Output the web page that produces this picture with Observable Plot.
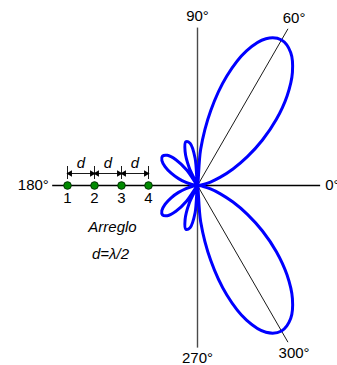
<!DOCTYPE html>
<html>
<head>
<meta charset="utf-8">
<script src="https://cdn.jsdelivr.net/npm/d3@7"></script>
<script src="https://cdn.jsdelivr.net/npm/@observablehq/plot@0.6"></script>
<style>
  html, body { margin: 0; padding: 0; background: #fff; }
  svg { display: block; }
</style>
</head>
<body>
<div id="chart"></div>
<script>
// Normalised radiation pattern of a 4-element array, every 5 degrees
const angles = [
  0, 5, 10, 15, 20, 25, 30, 35, 40, 45, 50, 55, 60, 65, 70, 75, 80, 85,
  90, 95, 100, 105, 110, 115, 120, 125, 130, 135, 140, 145, 150, 155, 160, 165, 170, 175,
  180, 185, 190, 195, 200, 205, 210, 215, 220, 225, 230, 235, 240, 245, 250, 255, 260, 265,
  270, 275, 280, 285, 290, 295, 300, 305, 310, 315, 320, 325, 330, 335, 340, 345, 350, 355
];
const gain = [
  0.000, 0.009, 0.035, 0.080, 0.145, 0.233, 0.343, 0.472, 0.613, 0.754, 0.879, 0.967, 1.000, 0.964, 0.853, 0.675, 0.452, 0.216,
  0.000, 0.163, 0.255, 0.269, 0.216, 0.118, 0.000, 0.112, 0.200, 0.254, 0.272, 0.259, 0.222, 0.173, 0.120, 0.071, 0.033, 0.008,
  0.000, 0.008, 0.033, 0.071, 0.120, 0.173, 0.222, 0.259, 0.272, 0.254, 0.200, 0.112, 0.000, 0.118, 0.216, 0.269, 0.255, 0.163,
  0.000, 0.216, 0.452, 0.675, 0.853, 0.964, 1.000, 0.967, 0.879, 0.754, 0.613, 0.472, 0.343, 0.233, 0.145, 0.080, 0.035, 0.009
];

// Reference directions and their labels
const spokeAngles = [0, 60, 90, 180, 270, 300];
const spokeLabels = ["0°", "60°", "90°", "180°", "270°", "300°"];

// Array sketch
const elements = ["1", "2", "3", "4"];
const spacingLabel = "d";
const arrayTitle = "Arreglo";
const arrayNote = "d=λ/2";

// ---- layout ----
const W = 337, H = 365;
const cx = 197, cy = 185, R = 168;            // pixel centre and radius of unit gain
const px = v => v / R;                         // pixels -> pattern units
const spokeLen = {0: 0.73, 60: 1.077, 90: 0.94, 180: 0.865, 270: 0.965, 300: 1.077};
const spokeStroke = {0: "#000", 60: "#000", 90: "#4a4a4a", 180: "#000", 270: "#4a4a4a", 300: "#000"};
const spokeWidth = {0: 1.4, 60: 0.9, 90: 1.4, 180: 1.4, 270: 1.4, 300: 0.9};
const labelPos = {
  0: {r: 0.76, anchor: "start"},
  60: {r: 1.15, anchor: "middle"},
  90: {r: 1.01, anchor: "middle"},
  180: {r: 0.885, anchor: "end"},
  270: {r: 1.03, anchor: "middle"},
  300: {r: 1.15, anchor: "middle"}
};
const elemX0 = px(67 - cx), elemStep = px(27);
const rad = a => a * Math.PI / 180;

const pattern = angles.map((a, i) => ({x: gain[i] * Math.cos(rad(a)), y: gain[i] * Math.sin(rad(a))}));
pattern.push(pattern[0]);

const spokes = spokeAngles.map((a, i) => ({
  a, x2: spokeLen[a] * Math.cos(rad(a)), y2: spokeLen[a] * Math.sin(rad(a)),
  label: spokeLabels[i],
  lx: labelPos[a].r * Math.cos(rad(a)), ly: labelPos[a].r * Math.sin(rad(a)),
  anchor: labelPos[a].anchor
}));

const elems = elements.map((name, i) => ({name, x: elemX0 + i * elemStep}));
const gaps = elems.slice(0, -1).map((e, i) => ({x1: e.x, x2: elems[i + 1].x, xm: (e.x + elems[i + 1].x) / 2}));
const dimY = px(cy - 173);
const heads = gaps.flatMap(g => [
  {x: g.x1 + px(2.6), rot: -90},
  {x: g.x2 - px(2.6), rot: 90}
]);

const font = "Liberation Sans, Arial, Helvetica, sans-serif";
const textStyle = {fontSize: 15, fontFamily: font, fill: "#000"};

const chart = Plot.plot({
  width: W, height: H,
  margin: 0,
  x: {domain: [-1, 1], range: [cx - R, cx + R], axis: null},
  y: {domain: [-1, 1], range: [cy + R, cy - R], axis: null},
  style: {background: "#fff", overflow: "visible"},
  marks: [
    // reference directions
    ...spokeAngles.map(a => Plot.link(spokes.filter(s => s.a === a), {
      x1: 0, y1: 0, x2: "x2", y2: "y2",
      stroke: spokeStroke[a], strokeWidth: spokeWidth[a]
    })),
    ...["start", "middle", "end"].map(anchor => Plot.text(spokes.filter(s => s.anchor === anchor), {
      x: "lx", y: "ly", text: "label", textAnchor: anchor, ...textStyle
    })),
    // radiation pattern
    Plot.line(pattern, {x: "x", y: "y", curve: "catmull-rom", stroke: "#0000ff", strokeWidth: 3, strokeLinejoin: "round"}),
    // spacing dimensions
    Plot.ruleX(elems, {x: "x", y1: px(cy - 166), y2: px(cy - 179), stroke: "#000", strokeWidth: 0.9}),
    Plot.link(gaps, {x1: "x1", x2: "x2", y1: dimY, y2: dimY, stroke: "#000", strokeWidth: 0.9}),
    Plot.dot(heads, {x: "x", y: dimY, symbol: "triangle", r: 2.4, rotate: "rot", fill: "#000", stroke: "none"}),
    Plot.text(gaps, {x: "xm", y: px(cy - 163), text: () => spacingLabel, fontStyle: "italic", ...textStyle}),
    // array elements
    Plot.dot(elems, {x: "x", y: 0, r: 3.8, fill: "#008a00", stroke: "#003300", strokeWidth: 1}),
    Plot.text(elems, {x: "x", y: px(cy - 198), text: "name", ...textStyle}),
    Plot.text([arrayTitle], {x: px(112 - cx), y: px(cy - 227), text: d => d, fontStyle: "italic", ...textStyle}),
    Plot.text([arrayNote], {x: px(110 - cx), y: px(cy - 254), text: d => d, fontStyle: "italic", ...textStyle})
  ]
});

document.getElementById("chart").appendChild(chart);
</script>
</body>
</html>
